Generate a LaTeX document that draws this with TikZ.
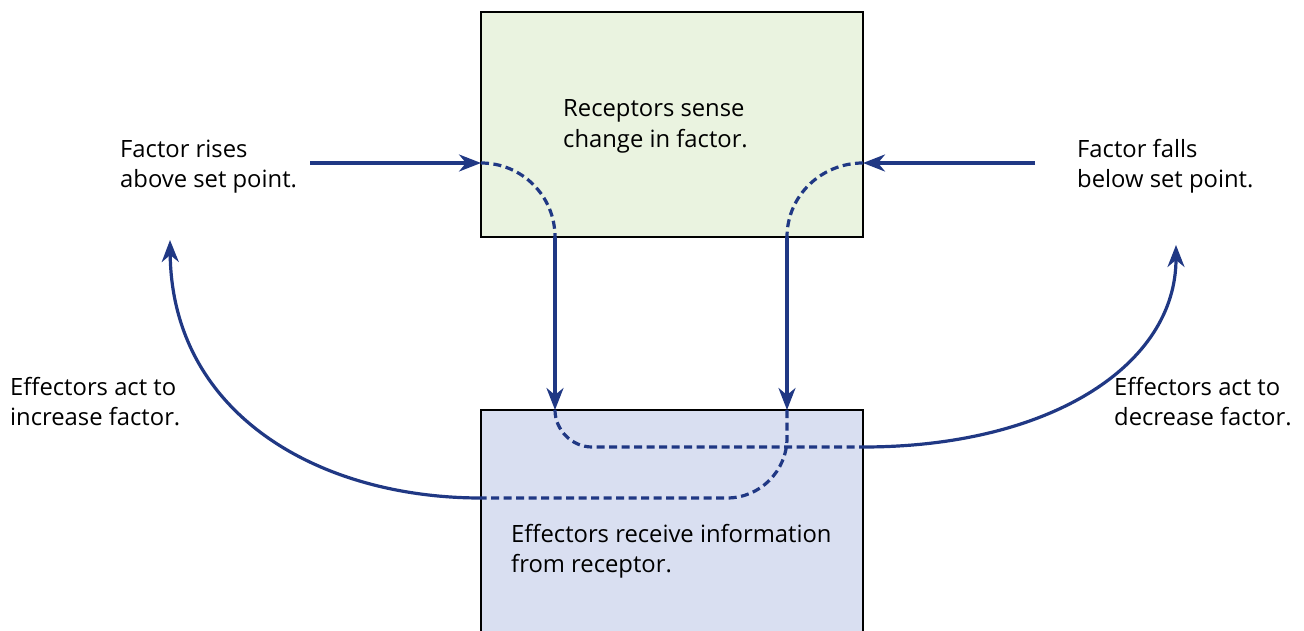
\documentclass[tikz,border=0pt]{standalone}
\usepackage{fontspec}
\setmainfont{Open Sans}
\usetikzlibrary{arrows.meta}

\definecolor{flow}{RGB}{32,56,132}
\definecolor{recfill}{RGB}{234,243,224}
\definecolor{efffill}{RGB}{217,223,241}

\tikzset{
  box/.style={draw=black, line width=2.3pt, inner sep=0pt},
  label/.style={anchor=west, align=left, inner sep=0pt, text=black,
                font=\fontsize{23.8}{30.5}\selectfont},
  flowline/.style={draw=flow, line width=3.2pt},
  flowarrow/.style={flowline, -{Stealth[length=22pt,width=17pt,inset=7pt]}},
  flowdash/.style={flowline, dash pattern=on 8pt off 4.5pt},
}

\begin{document}
\begin{tikzpicture}[x=1pt,y=-1pt]
  \useasboundingbox (0,0) rectangle (1304,631);
  \clip (0,0) rectangle (1304,631);

  % the two boxes
  \node[box, fill=recfill, minimum width=382pt, minimum height=225pt] (rec) at (672,124.5) {};
  \node[box, fill=efffill, minimum width=382pt, minimum height=260pt] (eff) at (672,540) {};

  % texts
  \node[label] (rectext) at (563,126.5) {Receptors sense\\change in factor.};
  \node[label] (efftext) at (511,551.5) {Effectors receive information\\from receptor.};
  \node[label] (rise) at (120,166.5) {Factor rises\\above set point.};
  \node[label] (fall) at (1077,166.5) {Factor falls\\below set point.};
  \node[label] (inc) at (10,401.5) {Effectors act to\\increase factor.};
  \node[label] (dec) at (1114,401.5) {Effectors act to\\decrease factor.};

  % connector end points
  \coordinate (riseout) at (310,163);
  \coordinate (recinL) at (481,163);
  \coordinate (recoutL) at (555,237);
  \coordinate (effinL) at (555,410);
  \coordinate (effturnL) at (592,447);
  \coordinate (effoutR) at (863,447);
  \coordinate (decup) at (1176,245);

  \coordinate (fallout) at (1035,163);
  \coordinate (recinR) at (863,163);
  \coordinate (recoutR) at (787,237);
  \coordinate (effinR) at (787,410);
  \coordinate (effbendR) at (787,438);
  \coordinate (effturnR) at (727,498);
  \coordinate (effoutL) at (481,498);
  \coordinate (incup) at (170,240);

  % factor rises: receptors -> effectors -> decrease
  \draw[flowarrow] (riseout) -- (recinL);
  \draw[flowdash] (recinL) .. controls (522,163) and (555,196) .. (recoutL);
  \draw[flowarrow] (recoutL) -- (effinL);
  \draw[flowdash] (effinL) .. controls (555,430) and (572,447) .. (effturnL) -- (effoutR);
  \draw[flowarrow] (effoutR) .. controls (1050,447) and (1176,365) .. (decup);

  % factor falls: receptors -> effectors -> increase
  \draw[flowarrow] (fallout) -- (recinR);
  \draw[flowdash] (recinR) .. controls (821,163) and (787,196) .. (recoutR);
  \draw[flowarrow] (recoutR) -- (effinR);
  \draw[flowdash] (effinR) -- (effbendR) .. controls (787,471) and (760,498) .. (effturnR) -- (effoutL);
  \draw[flowarrow] (effoutL) .. controls (320,498) and (172,415) .. (incup);
\end{tikzpicture}
\end{document}
